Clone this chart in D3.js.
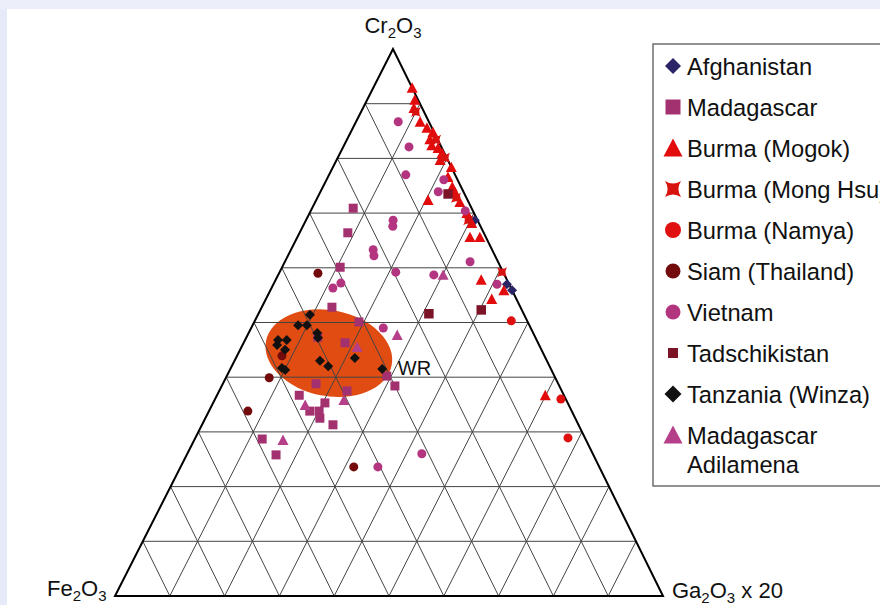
<!DOCTYPE html>
<html>
<head>
<meta charset="utf-8">
<script src="https://cdn.jsdelivr.net/npm/d3@7/dist/d3.min.js"></script>
<style>
  body { margin: 0; background: #fff; }
  svg { display: block; font-family: "Liberation Sans", Arial, sans-serif; }
</style>
</head>
<body>
<svg id="chart" width="880" height="605"></svg>
<script>
// compositions as [Cr2O3, Fe2O3, Ga2O3 x 20] in percent
var afghanistan = [[57.0, 0.4, 42.6], [55.9, 0, 44.1], [68.7, 0.5, 30.8]];
var madagascar = [
  [70.9, 21.6, 7.5], [66.4, 24.8, 8.8], [60.1, 29.3, 10.6], [52.8, 34.4, 12.8],
  [50.1, 30.8, 19.1], [46.3, 35.2, 18.5], [38.8, 44.2, 17.0], [37.5, 39.2, 23.3],
  [36.7, 48.3, 15.0], [33.8, 47.8, 18.4], [33.8, 46.1, 20.1], [35.3, 44.3, 20.4],
  [32.5, 46.6, 20.9], [31.3, 44.8, 23.9], [38.4, 30.0, 31.6], [40.2, 30.6, 29.2],
  [28.7, 59.0, 12.3], [25.8, 57.9, 16.3], [47.3, 39.7, 13.0]
];
var mogok = [
  [92.9, 0.0, 7.1], [90.7, 0.6, 8.7], [89.2, 1.5, 9.3], [86.7, 1.6, 11.7],
  [85.6, 0.9, 13.5], [83.5, 1.4, 15.1], [84.8, 0.2, 15.0], [82.4, 1.6, 16.0],
  [81.9, 0.7, 17.4], [81.0, 0.4, 18.6], [79.7, 1.4, 18.9], [78.4, 0, 21.6],
  [76.6, 1.5, 21.9], [74.8, 1.6, 23.6], [73.7, 1.6, 24.7], [72.0, 1.6, 26.4],
  [72.4, 7.2, 20.4], [70.0, 1.3, 28.7], [68.2, 1.3, 30.5], [65.6, 2.9, 31.5],
  [65.6, 1.1, 33.3], [57.8, 4.7, 37.5], [55.9, 1.5, 42.6], [54.3, 4.5, 41.2],
  [36.7, 3.4, 59.9]
];
var mongHsu = [
  [88.5, 1.5, 10.0], [83.4, 0.3, 16.3], [80.1, 0.3, 19.6], [72.8, 1.9, 25.3],
  [59.2, 0.2, 40.6], [68.7, 1.7, 29.6]
];
var namya = [[50.3, 2.9, 46.8], [36.0, 0.9, 63.1], [28.9, 3.1, 68.0]];
var siam = [
  [59.0, 33.9, 7.1], [39.9, 52.2, 7.9], [33.8, 59.1, 7.1], [23.6, 44.8, 31.6],
  [43.9, 47.9, 8.2]
];
var vietnam = [
  [86.7, 5.6, 7.7], [82.1, 5.9, 12.0], [77.0, 9.0, 14.0], [73.9, 4.6, 21.5],
  [76.1, 2.5, 21.4], [68.7, 15.4, 15.9], [67.6, 16.0, 16.4], [70.4, 1.4, 28.2],
  [61.1, 5.1, 33.8], [58.7, 12.9, 28.4], [57.0, 2.2, 40.8], [63.3, 21.7, 15.0],
  [62.2, 22.1, 15.7], [59.2, 19.6, 21.2], [56.3, 32.5, 11.2], [57.2, 30.6, 12.2],
  [49.0, 26.9, 24.1], [23.6, 40.4, 36.0], [26.0, 31.2, 42.8]
];
var tadschikistan = [[51.6, 17.3, 31.1], [52.3, 7.4, 40.3], [73.5, 3.0, 23.5]];
var tanzania = [
  [51.4, 39.1, 9.5], [49.5, 42.2, 8.3], [49.5, 40.6, 9.9], [48.1, 39.4, 12.5],
  [47.2, 39.7, 13.1], [46.8, 47.2, 6.0], [46.8, 45.6, 7.6], [45.9, 47.8, 6.3],
  [45.0, 46.8, 8.2], [41.7, 49.0, 9.3], [41.3, 48.6, 10.1], [43.0, 41.4, 15.6],
  [42.0, 40.4, 17.6], [43.5, 34.8, 21.7], [41.5, 30.8, 27.7]
];
var adilamena = [
  [47.7, 25.0, 27.3], [45.5, 33.4, 21.1], [35.8, 40.6, 23.6], [34.9, 48.1, 17.0],
  [28.5, 55.3, 16.2], [58.7, 11.2, 30.1]
];
var wrCenter = [44.4, 39.1, 16.5];
var gridValues = [10, 20, 30, 40, 50, 60, 70, 80, 90];

var svg = d3.select("#chart");

// scanned page edge
svg.append("rect").attr("width", 880).attr("height", 605).attr("fill", "#fff");
svg.append("rect").attr("width", 7).attr("height", 605).attr("fill", "#e6eaf8");
svg.append("rect").attr("width", 880).attr("height", 9).attr("fill", "#eceffa");

var crScale = d3.scaleLinear().domain([0, 100]).range([596, 49]);
var shiftScale = d3.scaleLinear().domain([0, 100]).range([0, 278]);
var gaScale = d3.scaleLinear().domain([0, 100]).range([0, 548]);
var x0 = 115;

function project(p) {
  var t = p[0] + p[1] + p[2];
  var cr = p[0] / t * 100, ga = p[2] / t * 100;
  return [x0 + shiftScale(cr) + gaScale(ga), crScale(cr)];
}

var line = d3.line();

// WR field
var wc = project(wrCenter);
svg.append("ellipse")
  .attr("cx", 0).attr("cy", 0)
  .attr("rx", 64).attr("ry", 43)
  .attr("transform", "translate(" + wc[0] + "," + wc[1] + ")rotate(11)")
  .attr("fill", "#e04c12");

// grid
var grid = svg.append("g").attr("stroke", "#444").attr("stroke-width", 1).attr("fill", "none");
gridValues.forEach(function(v) {
  grid.append("path").attr("d", line([project([v, 100 - v, 0]), project([v, 0, 100 - v])]));
  grid.append("path").attr("d", line([project([0, 100 - v, v]), project([100 - v, 0, v])]));
  grid.append("path").attr("d", line([project([0, v, 100 - v]), project([100 - v, v, 0])]));
});

svg.append("path")
  .attr("d", line([project([100, 0, 0]), project([0, 100, 0]), project([0, 0, 100])]) + "Z")
  .attr("fill", "none").attr("stroke", "#000").attr("stroke-width", 2)
  .attr("stroke-linejoin", "miter");

// marker shapes
function shapePath(kind, s) {
  var h = s / 2;
  if (kind === "circle") return d3.symbol(d3.symbolCircle, Math.PI * h * h)();
  if (kind === "square") return "M" + (-h) + "," + (-h) + "h" + s + "v" + s + "h" + (-s) + "Z";
  if (kind === "diamond") return "M0," + (-h) + "L" + h + ",0L0," + h + "L" + (-h) + ",0Z";
  if (kind === "triangle") return "M0," + (-h) + "L" + h + "," + (h * 0.9) + "L" + (-h) + "," + (h * 0.9) + "Z";
  if (kind === "cross") {
    var q = h * 0.35;
    return "M" + (-h) + "," + (-h) + "Q0," + (-q) + " " + h + "," + (-h) +
      "Q" + q + ",0 " + h + "," + h + "Q0," + q + " " + (-h) + "," + h +
      "Q" + (-q) + ",0 " + (-h) + "," + (-h) + "Z";
  }
}

var series = [
  { name: ["Afghanistan"], data: afghanistan, kind: "diamond", color: "#2b2466", size: 10, lsize: 16 },
  { name: ["Madagascar"], data: madagascar, kind: "square", color: "#a3306f", size: 9, lsize: 15 },
  { name: ["Burma (Mogok)"], data: mogok, kind: "triangle", color: "#e30c0c", size: 11, lsize: 19 },
  { name: ["Burma (Mong Hsu)"], data: mongHsu, kind: "cross", color: "#d8120e", size: 10, lsize: 16 },
  { name: ["Burma (Namya)"], data: namya, kind: "circle", color: "#e01010", size: 9, lsize: 16 },
  { name: ["Siam (Thailand)"], data: siam, kind: "circle", color: "#730a0c", size: 9, lsize: 15 },
  { name: ["Vietnam"], data: vietnam, kind: "circle", color: "#b3347f", size: 9, lsize: 15 },
  { name: ["Tadschikistan"], data: tadschikistan, kind: "square", color: "#7c1428", size: 9.5, lsize: 10 },
  { name: ["Tanzania (Winza)"], data: tanzania, kind: "diamond", color: "#111", size: 10, lsize: 17 },
  { name: ["Madagascar", "Adilamena"], data: adilamena, kind: "triangle", color: "#b63f8a", size: 11, lsize: 19 }
];

// points
series.forEach(function(s) {
  svg.append("g").selectAll("path")
    .data(s.data)
    .enter().append("path")
    .attr("transform", function(d) { return "translate(" + project(d) + ")"; })
    .attr("d", shapePath(s.kind, s.size))
    .attr("fill", s.color);
});

svg.append("text")
  .attr("x", wc[0] + 69).attr("y", wc[1] + 22)
  .attr("font-size", 20).attr("fill", "#111")
  .text("WR");

// axis labels with subscripts
function chemLabel(x, y, parts, anchor) {
  var t = svg.append("text").attr("x", x).attr("y", y)
    .attr("font-size", 22).attr("fill", "#111").attr("text-anchor", anchor || "start");
  parts.forEach(function(p) {
    var ts = t.append("tspan").text(p[0]);
    if (p[1]) ts.attr("font-size", 15).attr("dy", 5);
    else if (p[2]) ts.attr("dy", -5);
  });
}
chemLabel(393, 33, [["Cr"], ["2", true], ["O", false, true], ["3", true]], "middle");
chemLabel(47, 596, [["Fe"], ["2", true], ["O", false, true], ["3", true]]);
chemLabel(672, 598, [["Ga"], ["2", true], ["O", false, true], ["3", true], [" x 20", false, true]]);

// legend
var legend = svg.append("g");
legend.append("rect")
  .attr("x", 653).attr("y", 44).attr("width", 240).attr("height", 442)
  .attr("fill", "#fff").attr("stroke", "#6e6e6e").attr("stroke-width", 1.5);

var rowY = d3.scaleLinear().domain([0, 1]).range([75, 116]);
series.forEach(function(s, i) {
  var by = rowY(i);
  legend.append("path")
    .attr("transform", "translate(673," + (by - 9) + ")")
    .attr("d", shapePath(s.kind, s.lsize))
    .attr("fill", s.color);
  s.name.forEach(function(n, j) {
    legend.append("text")
      .attr("x", 687).attr("y", by + j * 29)
      .attr("font-size", 23.7).attr("fill", "#111")
      .text(n);
  });
});
</script>
</body>
</html>
